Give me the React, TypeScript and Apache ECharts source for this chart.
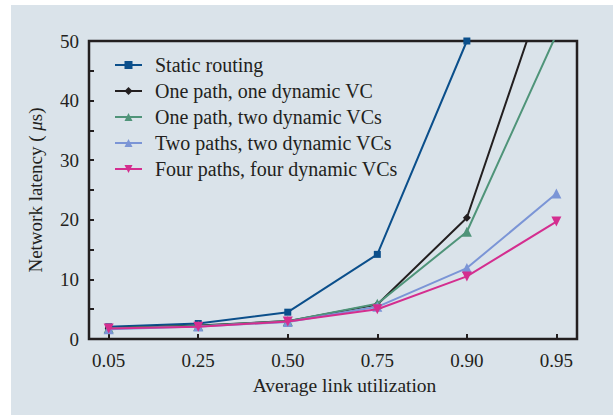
import React, { useEffect, useRef } from "react";
import * as echarts from "echarts";

const categories = ["0.05", "0.25", "0.50", "0.75", "0.90", "0.95"];
const seriesNames = [
  "Static routing",
  "One path, one dynamic VC",
  "One path, two dynamic VCs",
  "Two paths, two dynamic VCs",
  "Four paths, four dynamic VCs",
];
const staticRouting = [2.05, 2.6, 4.5, 14.2, 50];
const onePathOneVC = [1.8, 2.25, 3.0, 5.8, 20.35, 64.6];
const onePathTwoVCs = [1.8, 2.2, 3.0, 5.9, 18.0, 51.1];
const twoPathsTwoVCs = [1.65, 2.1, 2.85, 5.4, 11.9, 24.4];
const fourPathsFourVCs = [1.75, 2.05, 2.95, 5.0, 10.5, 19.7];
const yTicks = [0, 10, 20, 30, 40, 50];

const colors = ["#0b4f8b", "#231f20", "#4f9479", "#7b95d6", "#d42e8f"];
const symbols = ["rect", "diamond", "triangle", "triangle", "triangle"];
const symbolRotates = [0, 0, 0, 0, 180];
const symbolSizes = [7, 8, 10, 10, 10];

const FONT = '"Liberation Serif", "Times New Roman", serif';
const INK = "#231f20";

export default function App() {
  const ref = useRef<HTMLDivElement>(null);
  useEffect(() => {
    if (!ref.current) return;
    const chart = echarts.init(ref.current, null, { renderer: "svg" });
    const allData = [staticRouting, onePathOneVC, onePathTwoVCs, twoPathsTwoVCs, fourPathsFourVCs];
    const idx = categories.map((_, i) => i);
    chart.setOption({
      animation: false,
      backgroundColor: "#dae3ea",
      textStyle: { fontFamily: FONT, color: INK },
      grid: {
        left: 78,
        top: 36,
        right: 36,
        bottom: 76,
        show: true,
        borderColor: INK,
        borderWidth: 2.5,
        backgroundColor: "transparent",
      },
      legend: {
        orient: "vertical",
        left: 103,
        top: 50,
        padding: 0,
        itemWidth: 27,
        itemHeight: 10,
        itemGap: 6,
        data: seriesNames,
        textStyle: { fontFamily: FONT, fontSize: 20, color: INK, padding: [0, 0, 0, 8] },
      },
      xAxis: {
        type: "value",
        min: -0.22,
        max: 5.23,
        splitLine: { show: false },
        axisLine: { show: false, onZero: false },
        axisTick: {
          show: true,
          inside: true,
          length: 5,
          customValues: idx,
          lineStyle: { color: INK, width: 2 },
        },
        axisLabel: {
          customValues: idx,
          fontFamily: FONT,
          fontSize: 19,
          color: INK,
          margin: 12,
          formatter: (v: number) => categories[Math.round(v)] ?? "",
        },
        name: "Average link utilization",
        nameLocation: "middle",
        nameGap: 36,
        nameTextStyle: { fontFamily: FONT, fontSize: 19.5, color: INK, padding: [0, 0, 0, 23] },
      },
      yAxis: {
        type: "value",
        min: 0,
        max: 50,
        interval: 5,
        splitLine: { show: false },
        axisLine: { show: false, onZero: false },
        axisTick: { show: true, inside: true, length: 5, lineStyle: { color: INK, width: 2 } },
        axisLabel: {
          fontFamily: FONT,
          fontSize: 19,
          color: INK,
          margin: 10,
          formatter: (v: number) => (yTicks.includes(v) ? String(v) : ""),
        },
        name: "Network latency ( {i|μ}s)",
        nameLocation: "middle",
        nameGap: 44,
        nameRotate: 90,
        nameTextStyle: {
          fontFamily: FONT,
          fontSize: 19,
          color: INK,
          rich: { i: { fontFamily: FONT, fontSize: 19, fontStyle: "italic", color: INK } },
        },
      },
      series: allData.map((d, s) => ({
        name: seriesNames[s],
        type: "line",
        data: d.map((v, i) => [i, v]),
        clip: true,
        symbol: symbols[s],
        symbolRotate: symbolRotates[s],
        symbolSize: symbolSizes[s],
        showAllSymbol: true,
        color: colors[s],
        lineStyle: { color: colors[s], width: 2 },
        itemStyle: { color: colors[s] },
        z: 2 + s,
      })),
    });
    return () => chart.dispose();
  }, []);
  return (
    <div style={{ position: "fixed", left: 0, top: 0, width: 613, height: 415, background: "#ffffff" }}>
      <div ref={ref} style={{ position: "absolute", left: 11, top: 5, width: 602, height: 410 }} />
    </div>
  );
}
